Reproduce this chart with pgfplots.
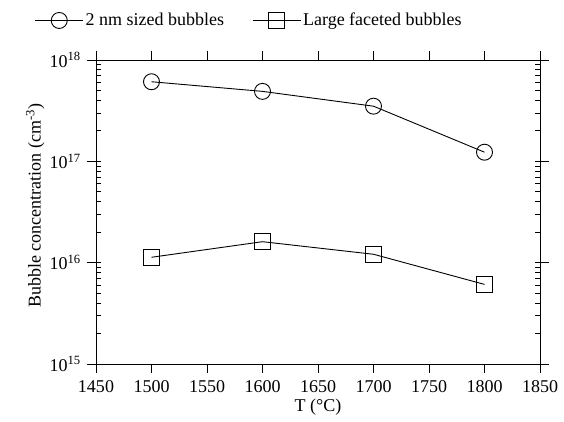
\documentclass[border=0pt]{standalone}
\usepackage{fontspec}
\setmainfont{Liberation Serif}
\usepackage{pgfplots}
\pgfplotsset{compat=1.18}
\begin{document}
\fontsize{18}{21}\selectfont
\begin{tikzpicture}[x=1pt,y=1pt]
\begin{axis}[
  at={(0,0)}, anchor=south west,
  scale only axis, width=444pt, height=304pt,
  xmin=1450, xmax=1850,
  ymode=log, ymin=1e15, ymax=1e18,
  xtick={1450,1500,...,1850},
  ytick={1e15,1e16,1e17,1e18},
  yticklabels={10\textsuperscript{15},10\textsuperscript{16},10\textsuperscript{17},10\textsuperscript{18}},
  tick align=outside, major tick length=9pt, minor tick length=-5pt,
  xticklabel pos=lower, yticklabel pos=left,
  /pgf/number format/assume math mode=true, /pgf/number format/1000 sep={},
  tick label style={font=\fontsize{18}{21}\selectfont, black},
  xticklabel style={yshift=-1pt},
  tick style={black, line width=0.7pt},
  axis line style={black, line width=0.8pt},
  xlabel={T (°C)},
  ylabel={Bubble concentration (cm\textsuperscript{-3})},
  xlabel style={at={(axis description cs:0.5,-0.143)}, anchor=center},
  ylabel style={at={(axis description cs:-0.137,0.52)}, anchor=center},
  label style={font=\fontsize{18}{21}\selectfont},
  legend columns=2,
  legend style={draw=none, fill=none, at={(axis description cs:-0.145,1.13)}, anchor=west,
    font=\fontsize{18}{21}\selectfont,
    nodes={inner xsep=2pt},
    /tikz/every even column/.append style={column sep=26pt}},
  legend image code/.code={\draw[#1] (0pt,0pt) -- (48pt,0pt); \draw[#1] plot coordinates {(24pt,0pt)};},
]
\addplot[black, line width=0.9pt, mark=o, mark size=8pt, mark options={solid, fill=none}]
  coordinates {(1500,6.1e17) (1600,4.9e17) (1700,3.5e17) (1800,1.23e17)};
\addlegendentry{2 nm sized bubbles}
\addplot[black, line width=0.9pt, mark=square, mark size=8pt, mark options={solid, fill=none}]
  coordinates {(1500,1.13e16) (1600,1.61e16) (1700,1.21e16) (1800,6.1e15)};
\addlegendentry{Large faceted bubbles}
\end{axis}
\path[use as bounding box] (-96,-52) rectangle (468,364);
\end{tikzpicture}
\end{document}
